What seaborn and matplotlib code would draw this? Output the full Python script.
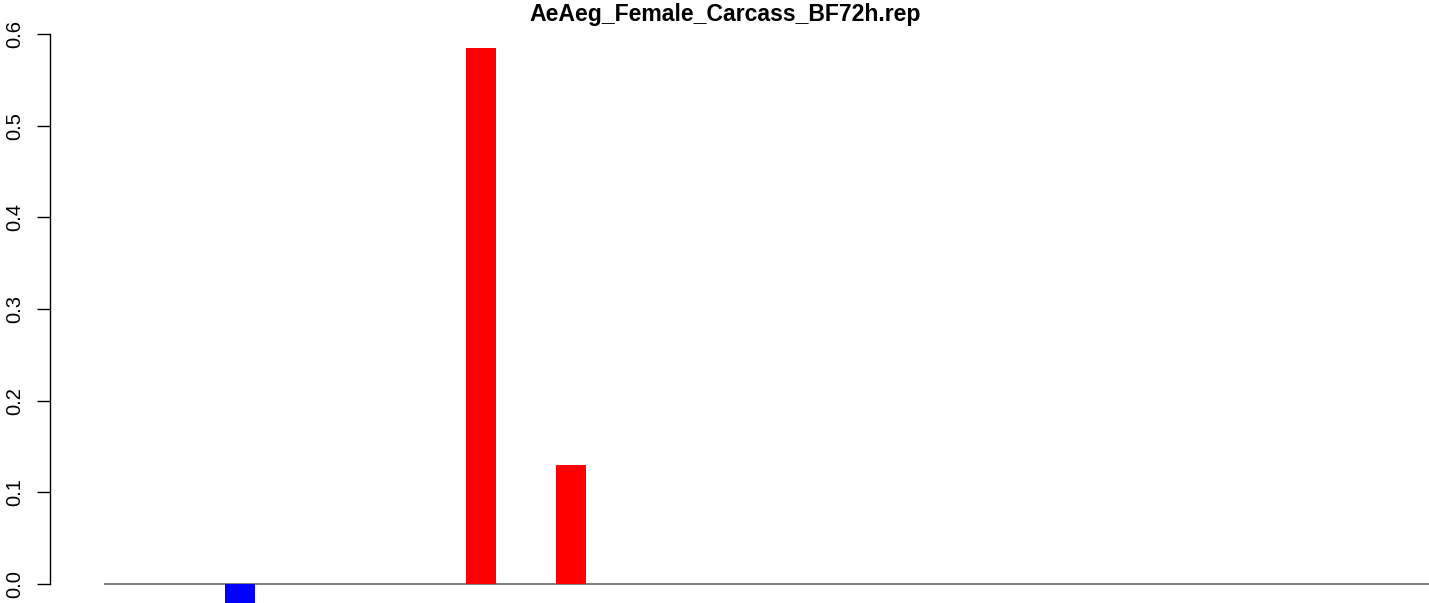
import matplotlib
matplotlib.use("Agg")
import matplotlib.pyplot as plt
import seaborn as sns
import pandas as pd

title = "AeAeg_Female_Carcass_BF72h.rep"
n_slots = 45
nonzero = {4: -0.025, 12: 0.585, 15: 0.130}
values = [nonzero.get(i, 0.0) for i in range(n_slots)]
categories = [str(i) for i in range(n_slots)]
colors = ["neg" if v < 0 else "pos" for v in values]
yticks = [0.0, 0.1, 0.2, 0.3, 0.4, 0.5, 0.6]

sns.set_style("white")
plt.rcParams['font.family'] = ['Liberation Sans', 'DejaVu Sans']

W, H = 1429, 603
fig = plt.figure(figsize=(W / 100, H / 100), dpi=100)
ax_left_px, ax_right_px = 50, 1429
ax_top_px, ax_bot_px = 20, 603
ax = fig.add_axes([ax_left_px / W, 1 - ax_bot_px / H,
                   (ax_right_px - ax_left_px) / W, (ax_bot_px - ax_top_px) / H])

df = pd.DataFrame({"cat": categories, "val": values, "col": colors})
sns.barplot(data=df, x="cat", y="val", hue="col", order=categories,
            palette={"pos": "#FF0000", "neg": "#0000FF"}, dodge=False,
            saturation=1, width=1.0, linewidth=0, legend=False, ax=ax,
            errorbar=None)

pitch = 30.15
x0_px = 104
xmin = -0.5 - (x0_px - ax_left_px) / pitch
xmax = -0.5 + (ax_right_px - x0_px) / pitch
ax.set_xlim(xmin, xmax)

ppu = (584 - 34) / 0.6
ax.set_ylim(-(ax_bot_px - 584) / ppu, (584 - ax_top_px) / ppu)

ax.hlines(0, -0.5, n_slots - 0.5, color="#808080", linewidth=1.5, zorder=0.5)

for s in ["top", "right", "bottom"]:
    ax.spines[s].set_visible(False)
ax.spines["left"].set_bounds(0, 0.6)
ax.spines["left"].set_linewidth(1.0)
ax.spines["left"].set_color("black")
ax.set_yticks(yticks)
ax.set_yticklabels([f"{t:.1f}" for t in yticks], rotation=90, va="center")
ax.tick_params(axis="y", length=9.4, width=1.0, pad=9, labelsize=14.5,
               left=True, color="black", labelcolor="black")
ax.set_xticks([])
ax.set_xlabel("")
ax.set_ylabel("")

fig.text(725 / W, 1 - 14 / H, title, ha="center", va="center",
         fontsize=16.6, fontweight="bold", color="black")

fig.savefig("out.png", dpi=100)
